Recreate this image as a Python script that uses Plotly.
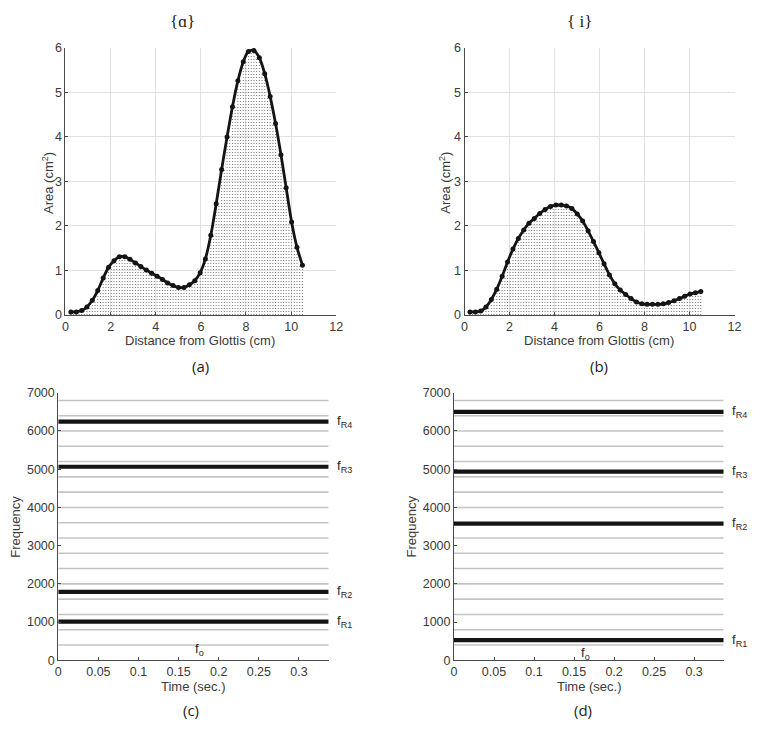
import plotly.graph_objects as go

# ---------------- data ----------------
distance_cm = [0.24, 0.48, 0.72, 0.95, 1.19, 1.43, 1.67, 1.91, 2.15, 2.39,
               2.63, 2.86, 3.10, 3.34, 3.58, 3.82, 4.06, 4.30, 4.53, 4.77,
               5.01, 5.25, 5.49, 5.73, 5.97, 6.20, 6.44, 6.68, 6.92, 7.16,
               7.40, 7.64, 7.88, 8.11, 8.35, 8.59, 8.83, 9.07, 9.31, 9.55,
               9.78, 10.02, 10.26, 10.50]
area_a = [0.07, 0.07, 0.10, 0.18, 0.33, 0.55, 0.83, 1.07, 1.22, 1.31,
          1.31, 1.25, 1.17, 1.09, 1.01, 0.94, 0.87, 0.80, 0.72, 0.66,
          0.62, 0.62, 0.68, 0.77, 0.95, 1.26, 1.79, 2.50, 3.27, 4.00,
          4.68, 5.26, 5.69, 5.92, 5.94, 5.78, 5.42, 4.91, 4.30, 3.60,
          2.86, 2.09, 1.52, 1.12]
area_i = [0.07, 0.07, 0.09, 0.18, 0.35, 0.58, 0.87, 1.19, 1.48, 1.72,
          1.91, 2.06, 2.17, 2.28, 2.37, 2.44, 2.47, 2.47, 2.45, 2.39,
          2.27, 2.11, 1.89, 1.65, 1.40, 1.15, 0.90, 0.70, 0.56, 0.46,
          0.37, 0.29, 0.25, 0.24, 0.24, 0.24, 0.25, 0.28, 0.32, 0.37,
          0.42, 0.47, 0.50, 0.53]

time_span = [0, 0.337]
harmonics = [400, 800, 1200, 1600, 2000, 2400, 2800, 3200, 3600, 4000,
             4400, 4800, 5200, 5600, 6000, 6400, 6800]
formants_a = [1009, 1788, 5064, 6245]
formants_i = [530, 3576, 4936, 6501]
formant_labels = ["R1", "R2", "R3", "R4"]
fo_label_a = (0.176, 275)
fo_label_i = (0.164, 185)

TICKFONT = dict(family="Liberation Sans, Arial, sans-serif", size=12.5, color="#3a3a3a")
AXCOL = "#4a4a4a"

fig = go.Figure()


def stems(xs, ys):
    sx, sy = [], []
    n = len(xs)
    for k in range(n):
        sx += [xs[k], xs[k], None]
        sy += [0, ys[k], None]
        if k < n - 1:
            xm = (xs[k] + xs[k + 1]) / 2
            ym = min(ys[k], ys[k + 1])
            sx += [xm, xm, None]
            sy += [0, ym, None]
    return sx, sy


for idx, area in enumerate([area_a, area_i]):
    xa = "x" if idx == 0 else "x2"
    ya = "y" if idx == 0 else "y2"
    sx, sy = stems(distance_cm, area)
    fig.add_trace(go.Scatter(x=sx, y=sy, mode="lines", xaxis=xa, yaxis=ya,
                             line=dict(color="#7a7a7a", width=1, dash="1px,2px"),
                             hoverinfo="skip", showlegend=False))
    fig.add_trace(go.Scatter(x=distance_cm, y=area, mode="lines+markers",
                             xaxis=xa, yaxis=ya,
                             line=dict(color="#141414", width=2.8, shape="spline", smoothing=0.8),
                             marker=dict(color="#141414", size=5),
                             showlegend=False))

for idx, formants in enumerate([formants_a, formants_i]):
    xa = "x3" if idx == 0 else "x4"
    ya = "y3" if idx == 0 else "y4"
    for h in harmonics:
        fig.add_trace(go.Scatter(x=time_span, y=[h, h], mode="lines", xaxis=xa, yaxis=ya,
                                 line=dict(color="#c4c4c4", width=1.6),
                                 hoverinfo="skip", showlegend=False))
    for f in formants:
        fig.add_trace(go.Scatter(x=time_span, y=[f, f], mode="lines", xaxis=xa, yaxis=ya,
                                 line=dict(color="#141414", width=4.2),
                                 showlegend=False))

W, H = 762, 733


def dom_x(a, b):
    return [a / W, b / W]


def dom_y(top, bottom):
    return [1 - bottom / H, 1 - top / H]


top_axis_common = dict(showline=True, linecolor=AXCOL, linewidth=1, ticks="inside",
                       ticklen=3, tickcolor=AXCOL, tickfont=TICKFONT, showgrid=True,
                       gridcolor="#e2e2e2", gridwidth=1, zeroline=False, mirror=False)
bot_axis_common = dict(showline=True, linecolor=AXCOL, linewidth=1, ticks="inside",
                       ticklen=3, tickcolor=AXCOL, tickfont=TICKFONT, showgrid=False,
                       zeroline=False, mirror=False)

layout = dict(
    width=W, height=H, margin=dict(l=0, r=0, t=0, b=0),
    paper_bgcolor="white", plot_bgcolor="white", showlegend=False,
    xaxis=dict(domain=dom_x(63.3, 337.7), range=[0, 12], dtick=2, anchor="y", **top_axis_common),
    yaxis=dict(domain=dom_y(41.7, 314), range=[0, 6], dtick=1, anchor="x", **top_axis_common),
    xaxis2=dict(domain=dom_x(467.7, 741.3), range=[0, 12], dtick=2, anchor="y2", **top_axis_common),
    yaxis2=dict(domain=dom_y(41.7, 314), range=[0, 6], dtick=1, anchor="x2", **top_axis_common),
    xaxis3=dict(domain=dom_x(56, 330), range=[0, 0.337], dtick=0.05, anchor="y3", **bot_axis_common),
    yaxis3=dict(domain=dom_y(393.3, 666), range=[0, 7000], dtick=1000, tickformat="d", anchor="x3", **bot_axis_common),
    xaxis4=dict(domain=dom_x(457, 730.3), range=[0, 0.337], dtick=0.05, anchor="y4", **bot_axis_common),
    yaxis4=dict(domain=dom_y(393.3, 666), range=[0, 7000], dtick=1000, tickformat="d", anchor="x4", **bot_axis_common),
)
fig.update_layout(**layout)

ann = []
LBL = dict(family="Liberation Sans, Arial, sans-serif", size=13, color="#3a3a3a")
CAP = dict(family="Open Sans, Noto Sans, sans-serif", size=15, color="#222222")
SERIF = dict(family="Liberation Serif, DejaVu Serif, serif", size=17, color="#222222")


def pa(text, px, py, font, angle=0):
    ann.append(dict(text=text, x=px / W, y=1 - py / H, xref="paper", yref="paper",
                    xanchor="center", yanchor="middle", showarrow=False, font=font,
                    textangle=angle))


pa("{\u0251}", 182, 15, SERIF)
pa("{ i}", 584, 15, SERIF)
pa("Distance from Glottis (cm)", 200, 340.5, LBL)
pa("Distance from Glottis (cm)", 604, 340.5, LBL)
pa("(a)", 200, 366, CAP)
pa("(b)", 604, 366, CAP)
pa("Area (cm<sup>2</sup>)", 45, 179, LBL, -90)
pa("Area (cm<sup>2</sup>)", 447, 179, LBL, -90)
pa("Frequency", 13, 530, LBL, -90)
pa("Frequency", 414, 530, LBL, -90)
pa("Time (sec.)", 193, 692.5, LBL)
pa("Time (sec.)", 594, 692.5, LBL)
pa("(c)", 190, 716.5, CAP)
pa("(d)", 588, 716.5, CAP)

for xa, ya, formants, fo in [("x3", "y3", formants_a, fo_label_a), ("x4", "y4", formants_i, fo_label_i)]:
    for f, lab in zip(formants, formant_labels):
        ann.append(dict(text="f<sub>" + lab + "</sub>", x=time_span[1], y=f, xref=xa, yref=ya,
                        xanchor="left", yanchor="middle", xshift=6, showarrow=False,
                        font=dict(family="Liberation Sans, Arial, sans-serif", size=13, color="#2a2a2a")))
    ann.append(dict(text="f<sub>o</sub>", x=fo[0], y=fo[1], xref=xa, yref=ya,
                    xanchor="center", yanchor="middle", showarrow=False,
                    font=dict(family="Liberation Sans, Arial, sans-serif", size=13, color="#2a2a2a")))

fig.update_layout(annotations=ann)
fig.write_html("out.html", config={"displayModeBar": False},
               post_script="document.body.style.margin='0px';document.body.style.overflow='hidden';")
